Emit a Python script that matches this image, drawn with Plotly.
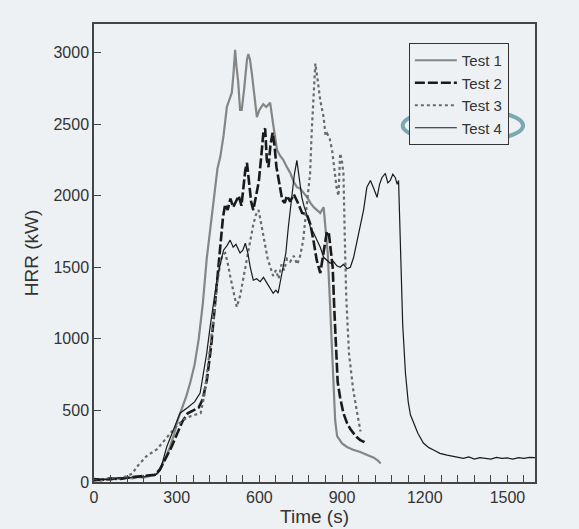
import plotly.graph_objects as go

# ---- data ----
t1 = [0, 20, 40, 60, 80, 100, 120, 140, 160, 180, 200, 215, 230, 245, 260, 275, 290, 305, 320, 335, 350, 365, 380, 395, 409, 421, 435, 448, 458, 470, 482, 492, 500, 506, 512, 517, 523, 530, 536, 545, 555, 560, 566, 573, 582, 591, 600, 614, 625, 639, 650, 657, 664, 675, 687, 700, 712, 724, 736, 748, 761, 773, 785, 797, 809, 821, 833, 839, 848, 855, 862, 868, 875, 882, 900, 918, 940, 966, 990, 1015, 1030, 1040]
y1 = [15, 10, 20, 15, 25, 20, 30, 25, 35, 30, 40, 45, 60, 110, 170, 240, 330, 440, 520, 600, 700, 820, 1000, 1250, 1560, 1760, 1950, 2190, 2270, 2420, 2620, 2680, 2720, 2850, 3020, 2900, 2800, 2600, 2600, 2750, 2950, 2990, 2950, 2850, 2700, 2550, 2600, 2640, 2620, 2650, 2500, 2420, 2320, 2280, 2250, 2200, 2160, 2100, 2060, 2050, 2020, 1990, 1950, 1920, 1900, 1880, 1920, 1800, 1600, 1300, 950, 650, 430, 320, 270, 245, 225, 210, 190, 170, 150, 130]

t2 = [0, 30, 60, 90, 120, 150, 180, 200, 220, 240, 260, 280, 300, 320, 340, 360, 380, 395, 410, 425, 440, 450, 460, 468, 476, 485, 495, 505, 515, 525, 535, 542, 549, 555, 562, 570, 578, 588, 598, 608, 615, 621, 627, 633, 640, 648, 655, 662, 668, 676, 683, 692, 700, 712, 725, 740, 755, 772, 785, 796, 808, 821, 833, 845, 852, 858, 866, 872, 878, 884, 893, 905, 918, 930, 942, 955, 966, 978, 990]
y2 = [20, 15, 25, 20, 30, 35, 40, 45, 50, 90, 160, 240, 330, 420, 480, 500, 520, 580, 720, 950, 1250, 1480, 1700, 1850, 1940, 1900, 1980, 1920, 1960, 2000, 1930, 2050, 2180, 2230, 2100, 1960, 1900, 2000, 2100, 2300, 2450, 2470, 2250, 2200, 2350, 2440, 2350, 2200, 2130, 2050, 1970, 1950, 2000, 1960, 2010, 1950, 1880, 1870, 1800, 1690, 1550, 1460, 1600, 1750, 1740, 1650, 1500, 1200, 900, 700, 590, 480, 412, 370, 340, 310, 293, 280, 270]

t3 = [0, 30, 60, 90, 120, 140, 155, 170, 190, 229, 250, 270, 290, 310, 330, 350, 370, 387, 400, 412, 425, 437, 448, 458, 467, 476, 485, 495, 505, 518, 530, 542, 555, 567, 578, 588, 597, 605, 613, 621, 630, 640, 650, 660, 670, 680, 690, 700, 712, 725, 737, 748, 759, 770, 778, 784, 790, 796, 803, 812, 821, 833, 840, 846, 855, 864, 872, 880, 887, 890, 893, 899, 905, 910, 915, 925, 940, 955, 967]
y3 = [10, 15, 20, 25, 40, 60, 105, 140, 180, 230, 280, 330, 370, 410, 440, 460, 470, 481, 600, 780, 1000, 1200, 1400, 1530, 1590, 1600, 1530, 1430, 1330, 1223, 1300, 1420, 1560, 1689, 1800, 1870, 1900, 1820, 1740, 1640, 1560, 1500, 1440, 1480, 1420, 1520, 1480, 1560, 1540, 1580, 1520, 1580, 1689, 1900, 2050, 2156, 2450, 2700, 2924, 2800, 2666, 2550, 2420, 2435, 2400, 2317, 2200, 2059, 2000, 2150, 2296, 2250, 2156, 1700, 1300, 900, 650, 480, 353]

t4 = [0, 30, 60, 90, 120, 150, 180, 200, 220, 240, 264, 290, 312, 340, 365, 385, 397, 409, 421, 433, 445, 458, 470, 482, 494, 505, 515, 530, 540, 549, 558, 567, 578, 590, 603, 615, 627, 638, 650, 660, 668, 678, 687, 696, 705, 712, 718, 727, 736, 745, 754, 763, 772, 785, 797, 809, 821, 833, 845, 857, 869, 881, 893, 905, 918, 930, 942, 954, 966, 978, 990, 1003, 1015, 1027, 1036, 1045, 1057, 1066, 1075, 1084, 1093, 1100, 1105, 1112, 1120, 1130, 1140, 1148, 1160, 1175, 1195, 1215, 1232, 1255, 1281, 1300, 1320, 1340, 1360, 1380, 1400, 1420, 1440, 1460, 1480, 1500, 1520, 1540, 1560, 1580, 1600]
y4 = [10, 20, 15, 30, 25, 40, 35, 50, 45, 80, 246, 380, 481, 520, 560, 621, 760, 900, 1080, 1249, 1400, 1520, 1620, 1650, 1690, 1640, 1660, 1600, 1620, 1668, 1600, 1500, 1410, 1420, 1400, 1430, 1389, 1350, 1319, 1340, 1320, 1420, 1500, 1600, 1780, 1900, 2017, 2150, 2247, 2100, 1989, 1920, 1870, 1780, 1740, 1689, 1640, 1570, 1550, 1528, 1540, 1510, 1500, 1520, 1490, 1500, 1570, 1680, 1780, 1900, 2059, 2107, 2050, 1989, 2080, 2128, 2156, 2090, 2107, 2150, 2128, 2080, 2107, 1600, 1100, 760, 560, 470, 412, 340, 272, 240, 223, 200, 188, 180, 170, 165, 175, 160, 170, 165, 160, 172, 165, 168, 160, 170, 165, 172, 170]

names = ["Test 1", "Test 2", "Test 3", "Test 4"]
x_ticks = [0, 300, 600, 900, 1200, 1500]
y_ticks = [0, 500, 1000, 1500, 2000, 2500, 3000]

BG = "#edf1f3"
TXT = "#333333"
AX = "#444444"

fig = go.Figure()
fig.add_trace(go.Scatter(x=t1, y=y1, mode="lines", name=names[0],
                         line=dict(color="#858585", width=2.2)))
fig.add_trace(go.Scatter(x=t2, y=y2, mode="lines", name=names[1],
                         line=dict(color="#1a1a1a", width=2.6, dash="10px,3px")))
fig.add_trace(go.Scatter(x=t3, y=y3, mode="lines", name=names[2],
                         line=dict(color="#6a6a6a", width=2.2, dash="dot")))
fig.add_trace(go.Scatter(x=t4, y=y4, mode="lines", name=names[3],
                         line=dict(color="#1a1a1a", width=1.2)))

# The page body has an 8px default margin, so the figure is 8px smaller
# and its margins are shifted so the plot area lands where the reference has it.
fig.update_layout(
    width=571, height=521,
    paper_bgcolor=BG, plot_bgcolor=BG,
    margin=dict(l=86, r=44, t=16, b=47, autoexpand=False),
    font=dict(family="Liberation Sans, Arial, sans-serif", size=16, color=TXT),
    showlegend=True,
    legend=dict(x=0.714, y=0.9585, xanchor="left", yanchor="top",
                bgcolor=BG, bordercolor="#333333", borderwidth=1,
                font=dict(size=15, color=TXT), tracegroupgap=0,
                itemwidth=42),
    xaxis=dict(range=[0, 1600], tickvals=x_ticks, ticks="inside", ticklen=7,
               tickcolor=AX, showline=True, linecolor=AX, linewidth=1.5,
               mirror=True, showgrid=False, zeroline=False, automargin=False,
               minor=dict(dtick=60, tick0=0, ticks="inside", ticklen=7, tickcolor=AX, showgrid=False),
               title=dict(text="Time (s)", standoff=2),
               tickfont=dict(size=16)),
    yaxis=dict(range=[0, 3200], tickvals=y_ticks, ticks="inside", ticklen=7,
               tickcolor=AX, showline=True, linecolor=AX, linewidth=1.5,
               mirror=True, showgrid=False, zeroline=False, automargin=False,
               title=dict(text="HRR (kW)", standoff=10),
               tickfont=dict(size=16)),
)

fig.add_shape(type="circle", xref="paper", yref="paper",
              x0=0.70, x1=0.973, y0=0.7424, y1=0.8144,
              line=dict(color="#7aa7b3", width=4))

fig.write_html("out.html", post_script="document.body.style.background='#edf1f3';")
